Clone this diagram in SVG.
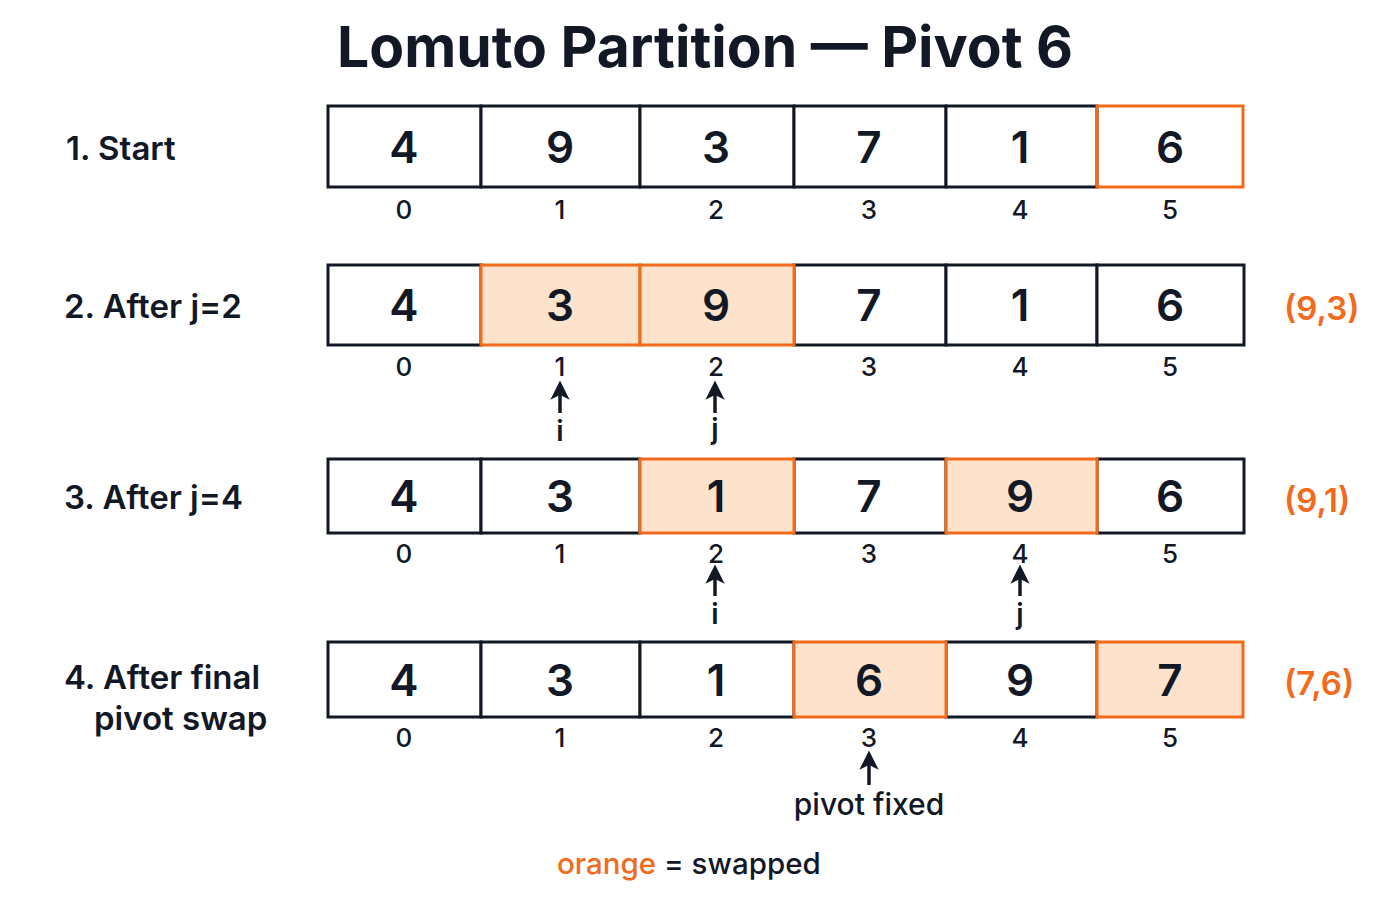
<svg xmlns="http://www.w3.org/2000/svg" width="1400" height="900" viewBox="0 0 1400 900">
<defs>
<style>
text{font-family:Inter,"Liberation Sans",sans-serif;fill:#121826}
.title{font-size:57px;font-weight:700;text-anchor:middle}
.lbl{font-size:33px;font-weight:600}
.val{font-size:44px;font-weight:600;text-anchor:middle}
.idx{font-size:26px;font-weight:500;text-anchor:middle}
.ptr{font-size:28px;font-weight:600;text-anchor:middle}
.sw{font-size:33px;font-weight:600;fill:#f26a1b}
.cell{fill:#fff;stroke:#121826;stroke-width:3}
.hot{fill:#fde3cc;stroke:#f26a1b;stroke-width:3}
.piv{fill:none;stroke:#f26a1b;stroke-width:3}
.arr{stroke:#121826;stroke-width:3.5;marker-end:url(#ah)}
</style>
<marker id="ah" viewBox="0 0 10 10" refX="4" refY="5" markerWidth="5.5" markerHeight="5.5" orient="auto" markerUnits="strokeWidth">
<path d="M0,0 L10,5 L0,10 L2.5,5 z" fill="#121826"/>
</marker>
</defs>
<rect width="1400" height="900" fill="#fff"/>
<text class="title" x="705" y="67">Lomuto Partition — Pivot 6</text>

<g id="row1">
<text class="lbl" x="66" y="160">1. Start</text>
<rect class="cell" x="328" y="106" width="153" height="81"/>
<rect class="cell" x="481" y="106" width="159" height="81"/>
<rect class="cell" x="640" y="106" width="154" height="81"/>
<rect class="cell" x="794" y="106" width="152" height="81"/>
<rect class="cell" x="946" y="106" width="151" height="81"/>
<rect class="piv" x="1097" y="106" width="146" height="81"/>
<text class="val" x="404" y="163">4</text><text class="val" x="560" y="163">9</text><text class="val" x="716" y="163">3</text><text class="val" x="869" y="163">7</text><text class="val" x="1020" y="163">1</text><text class="val" x="1170" y="163">6</text>
<text class="idx" x="404" y="219">0</text><text class="idx" x="560" y="219">1</text><text class="idx" x="716" y="219">2</text><text class="idx" x="869" y="219">3</text><text class="idx" x="1020" y="219">4</text><text class="idx" x="1170" y="219">5</text>
</g>

<g id="row2">
<text class="lbl" x="64" y="318">2. After j=2</text>
<rect class="cell" x="328" y="265" width="153" height="80"/>
<rect class="cell" x="794" y="265" width="152" height="80"/>
<rect class="cell" x="946" y="265" width="151" height="80"/>
<rect class="cell" x="1097" y="265" width="147" height="80"/>
<rect class="hot" x="481" y="265" width="159" height="80"/>
<rect class="hot" x="640" y="265" width="154" height="80"/>
<text class="val" x="404" y="321">4</text><text class="val" x="560" y="321">3</text><text class="val" x="716" y="321">9</text><text class="val" x="869" y="321">7</text><text class="val" x="1020" y="321">1</text><text class="val" x="1170" y="321">6</text>
<text class="idx" x="404" y="376">0</text><text class="idx" x="560" y="376">1</text><text class="idx" x="716" y="376">2</text><text class="idx" x="869" y="376">3</text><text class="idx" x="1020" y="376">4</text><text class="idx" x="1170" y="376">5</text>
<text class="ptr" x="560" y="441">i</text><text class="ptr" x="715" y="439">j</text>
<text class="sw" x="1284" y="320">(9,3)</text>
</g>

<g id="row3">
<text class="lbl" x="64" y="509">3. After j=4</text>
<rect class="cell" x="328" y="459" width="153" height="74"/>
<rect class="cell" x="481" y="459" width="159" height="74"/>
<rect class="cell" x="794" y="459" width="152" height="74"/>
<rect class="cell" x="1097" y="459" width="147" height="74"/>
<rect class="hot" x="640" y="459" width="154" height="74"/>
<rect class="hot" x="946" y="459" width="151" height="74"/>
<text class="val" x="404" y="512">4</text><text class="val" x="560" y="512">3</text><text class="val" x="716" y="512">1</text><text class="val" x="869" y="512">7</text><text class="val" x="1020" y="512">9</text><text class="val" x="1170" y="512">6</text>
<text class="idx" x="404" y="563">0</text><text class="idx" x="560" y="563">1</text><text class="idx" x="716" y="563">2</text><text class="idx" x="869" y="563">3</text><text class="idx" x="1020" y="563">4</text><text class="idx" x="1170" y="563">5</text>
<text class="ptr" x="715" y="624">i</text><text class="ptr" x="1020" y="624">j</text>
<text class="sw" x="1284" y="512">(9,1)</text>
</g>

<g id="row4">
<text class="lbl" x="64" y="689">4. After final</text>
<text class="lbl" x="94" y="730">pivot swap</text>
<rect class="cell" x="328" y="642" width="153" height="75"/>
<rect class="cell" x="481" y="642" width="159" height="75"/>
<rect class="cell" x="640" y="642" width="154" height="75"/>
<rect class="cell" x="946" y="642" width="151" height="75"/>
<rect class="hot" x="794" y="642" width="152" height="75"/>
<rect class="hot" x="1097" y="642" width="146" height="75"/>
<text class="val" x="404" y="696">4</text><text class="val" x="560" y="696">3</text><text class="val" x="716" y="696">1</text><text class="val" x="869" y="696">6</text><text class="val" x="1020" y="696">9</text><text class="val" x="1170" y="696">7</text>
<text class="idx" x="404" y="747">0</text><text class="idx" x="560" y="747">1</text><text class="idx" x="716" y="747">2</text><text class="idx" x="869" y="747">3</text><text class="idx" x="1020" y="747">4</text><text class="idx" x="1170" y="747">5</text>
<text x="869" y="815" style="font-size:30px;font-weight:500;text-anchor:middle">pivot fixed</text>
<text class="sw" x="1284" y="695">(7,6)</text>
</g>

<g id="connectors">
<line class="arr" x1="560" y1="413" x2="560" y2="392"/>
<line class="arr" x1="715" y1="413" x2="715" y2="392"/>
<line class="arr" x1="715" y1="596" x2="715" y2="576"/>
<line class="arr" x1="1020" y1="596" x2="1020" y2="576"/>
<line class="arr" x1="869" y1="785" x2="869" y2="762"/>
</g>

<g id="legend">
<text x="557" y="874" style="font-size:29.5px;font-weight:500"><tspan fill="#f26a1b">orange</tspan> = swapped</text>
</g>
</svg>
